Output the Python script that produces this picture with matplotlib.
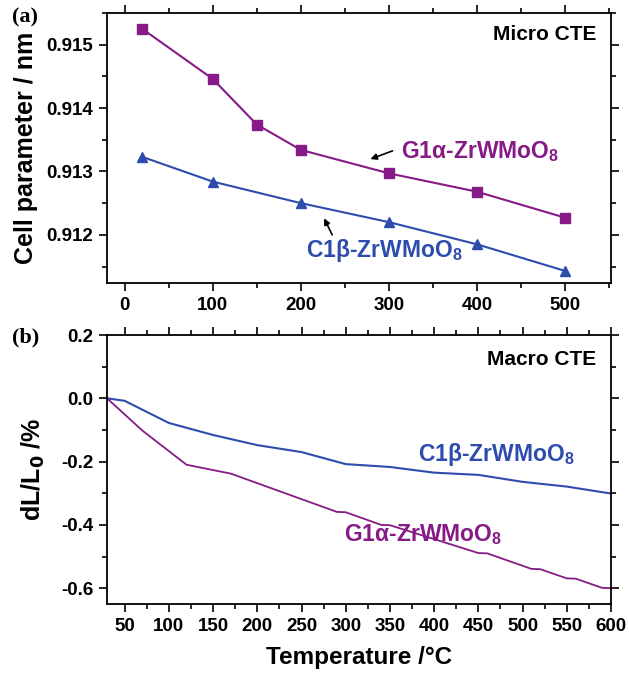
import matplotlib
matplotlib.use("Agg")
import matplotlib.pyplot as plt
from matplotlib.ticker import MultipleLocator

plt.rcParams['font.family'] = ['Liberation Sans', 'DejaVu Sans']
plt.rcParams['font.weight'] = 'bold'
plt.rcParams['mathtext.default'] = 'regular'

PURPLE = '#861A86'
BLUE = '#2D4CAE'

# ---- panel (a): micro CTE (cell parameter, nm)
temp_a_g1 = [20, 100, 150, 200, 300, 400, 500]
cell_g1 = [0.91525, 0.91446, 0.91374, 0.91334, 0.91297, 0.91268, 0.91227]
temp_a_c1 = [20, 100, 200, 300, 400, 500]
cell_c1 = [0.91323, 0.91284, 0.91250, 0.91220, 0.91185, 0.91143]
yticks_a = [0.912, 0.913, 0.914, 0.915]
yticklabels_a = ['0.912', '0.913', '0.914', '0.915']
xticks_a = [0, 100, 200, 300, 400, 500]

# ---- panel (b): macro CTE (dL/L0, %)
temp_b_c1 = [30, 50, 100, 150, 200, 250, 300, 350, 400, 450, 500, 550, 600]
dl_c1 = [0.0, -0.008, -0.078, -0.116, -0.148, -0.170, -0.208, -0.217, -0.235,
         -0.242, -0.264, -0.279, -0.301]
temp_b_g1 = [30, 70, 120, 170, 290, 300, 340, 350, 450, 460, 510, 520, 550, 560,
             590, 600]
dl_g1 = [0.0, -0.102, -0.210, -0.238, -0.359, -0.360, -0.400, -0.401, -0.489,
         -0.490, -0.539, -0.540, -0.569, -0.570, -0.599, -0.600]
yticks_b = [-0.6, -0.4, -0.2, 0.0, 0.2]
yticklabels_b = ['-0.6', '-0.4', '-0.2', '0.0', '0.2']
xticks_b = [50, 100, 150, 200, 250, 300, 350, 400, 450, 500, 550, 600]

W, H = 629, 676
fig = plt.figure(figsize=(W / 100, H / 100), dpi=100)

def pos(l, t, r, b):
    return [l / W, 1 - b / H, (r - l) / W, (b - t) / H]

ax1 = fig.add_axes(pos(107, 13, 611, 283))
ax2 = fig.add_axes(pos(107, 335, 611, 604))

for ax in (ax1, ax2):
    for s in ax.spines.values():
        s.set_linewidth(1.3)
    ax.tick_params(which='both', direction='out', top=True, right=True,
                   labeltop=False, labelright=False, width=1.2, labelsize=13.5)
    ax.tick_params(which='major', length=6, pad=4)
    ax.tick_params(which='minor', length=3.5)

LBL = 16.5

# panel (a)
ax1.plot(temp_a_g1, cell_g1, '-s', color=PURPLE, lw=1.5, ms=6.5)
ax1.plot(temp_a_c1, cell_c1, '-^', color=BLUE, lw=1.5, ms=7.5)
ax1.set_xlim(-20, 552)
ax1.set_ylim(0.91124, 0.9155)
ax1.set_xticks(xticks_a)
ax1.xaxis.set_minor_locator(MultipleLocator(50))
ax1.set_yticks(yticks_a)
ax1.set_yticklabels(yticklabels_a)
ax1.yaxis.set_minor_locator(MultipleLocator(0.0005))
ax1.set_ylabel('Cell parameter / nm', fontsize=18, fontweight='bold', labelpad=6)
ax1.text(535, 0.91516, 'Micro CTE', fontsize=15, fontweight='bold',
         ha='right', va='center')
ax1.text(314, 0.91332, r'G1$\alpha$-ZrWMoO$_8$', color=PURPLE, fontsize=LBL,
         fontweight='bold', ha='left', va='center')
ax1.annotate('', xy=(276, 0.91318), xytext=(307, 0.91334),
             arrowprops=dict(arrowstyle='-|>', color='black', lw=1.2,
                             mutation_scale=9))
ax1.text(206, 0.91176, r'C1$\beta$-ZrWMoO$_8$', color=BLUE, fontsize=LBL,
         fontweight='bold', ha='left', va='center')
ax1.annotate('', xy=(225, 0.91230), xytext=(237, 0.91196),
             arrowprops=dict(arrowstyle='-|>', color='black', lw=1.2,
                             mutation_scale=9))

# panel (b)
ax2.plot(temp_b_c1, dl_c1, '-', color=BLUE, lw=1.5)
ax2.plot(temp_b_g1, dl_g1, '-', color=PURPLE, lw=1.3)
ax2.set_xlim(30, 600)
ax2.set_ylim(-0.65, 0.2)
ax2.set_xticks(xticks_b)
ax2.xaxis.set_minor_locator(MultipleLocator(25))
ax2.set_yticks(yticks_b)
ax2.set_yticklabels(yticklabels_b)
ax2.yaxis.set_minor_locator(MultipleLocator(0.1))
ax2.set_ylabel(r'dL/L$_\mathbf{0}$ /%', fontsize=18, fontweight='bold', labelpad=10)
ax2.set_xlabel('Temperature /°C', fontsize=17.5, fontweight='bold', labelpad=8)
ax2.text(583, 0.122, 'Macro CTE', fontsize=15, fontweight='bold',
         ha='right', va='center')
ax2.text(382, -0.177, r'C1$\beta$-ZrWMoO$_8$', color=BLUE, fontsize=LBL,
         fontweight='bold', ha='left', va='center')
ax2.text(298, -0.429, r'G1$\alpha$-ZrWMoO$_8$', color=PURPLE, fontsize=LBL,
         fontweight='bold', ha='left', va='center')

fig.text(12 / W, 1 - 17 / H, '(a)', family='Liberation Serif', fontsize=16,
         fontweight='bold', ha='left', va='center')
fig.text(12 / W, 1 - 337 / H, '(b)', family='Liberation Serif', fontsize=16,
         fontweight='bold', ha='left', va='center')

fig.savefig('out.png', dpi=100)
